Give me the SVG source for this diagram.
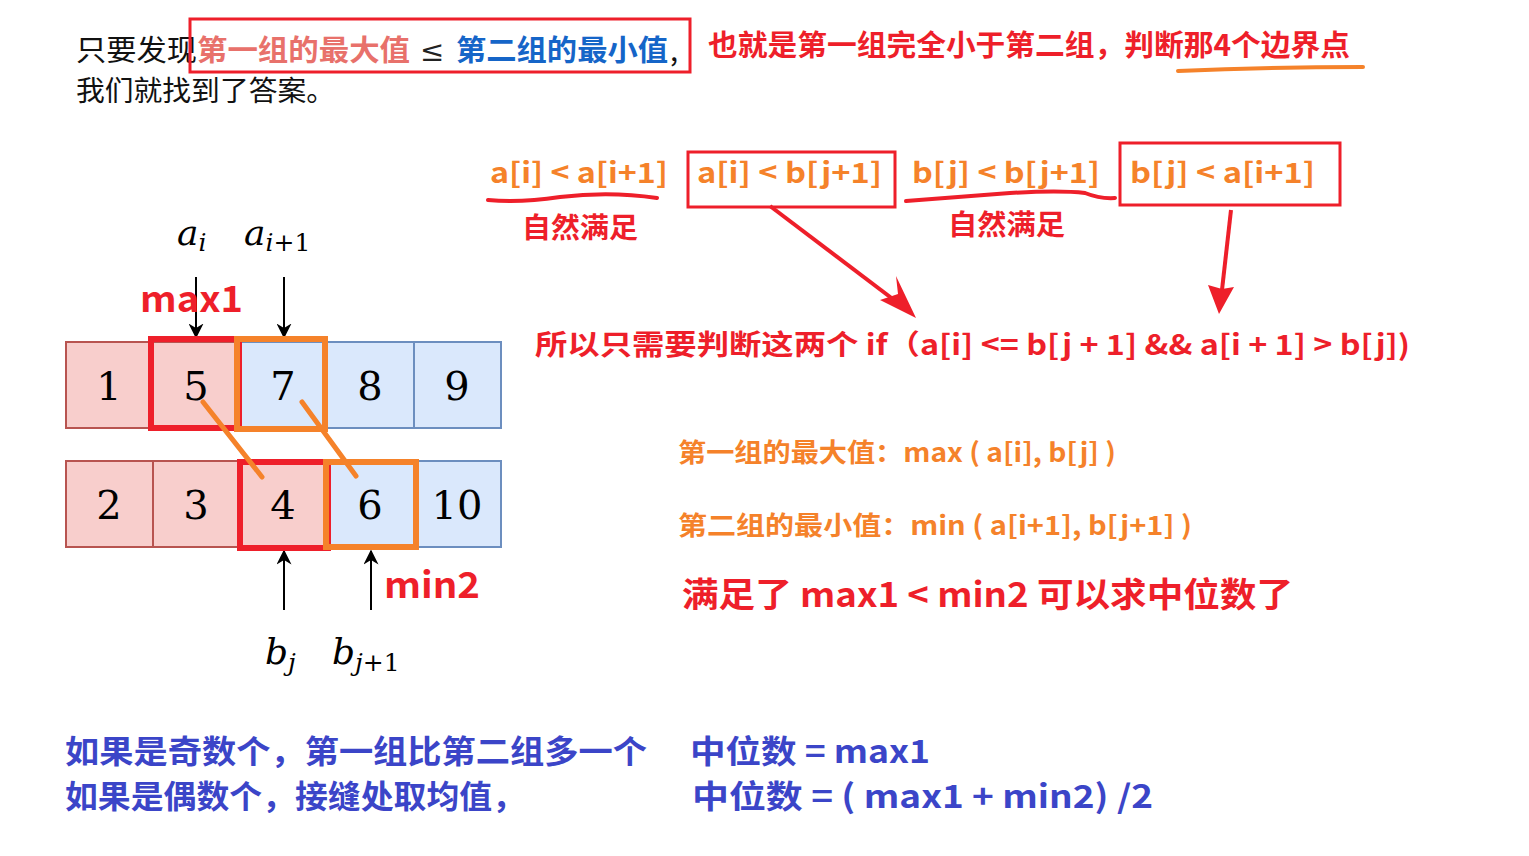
<svg xmlns="http://www.w3.org/2000/svg" width="1529" height="856" viewBox="0 0 1529 856">
<defs>
<style>
.cjk{font-family:"Noto Sans CJK SC","Noto Sans",sans-serif;}
.b{font-weight:bold;}
.red{fill:#ee1f2a;}
.org{fill:#f5822a;}
.blu{fill:#3b45c8;}
.math{font-family:"DejaVu Serif","Liberation Serif",serif;font-style:italic;fill:#000;}
.num{font-family:"DejaVu Serif","Liberation Serif",serif;font-size:40px;fill:#000;text-anchor:middle;}
.pink{fill:#f8cecc;stroke:#b85450;stroke-width:2;}
.blue{fill:#dae8fc;stroke:#6c8ebf;stroke-width:2;}
.hr{fill:none;stroke:#ee1f2a;stroke-width:6;}
.ho{fill:none;stroke:#f5822a;stroke-width:6;}
</style>
<marker id="ab" viewBox="0 0 10 10" refX="9" refY="5" markerWidth="15" markerHeight="15" orient="auto" markerUnits="userSpaceOnUse">
<path d="M0,0 L10,5 L0,10 L3,5 Z" fill="#000"/>
</marker>
</defs>
<rect width="1529" height="856" fill="#fff"/>

<g id="header">
<text class="cjk" x="76" y="61" font-size="29" fill="#111" textLength="121" lengthAdjust="spacingAndGlyphs">只要发现</text>
<text class="cjk b" x="197" y="61" font-size="29" fill="#e8716b" textLength="213" lengthAdjust="spacingAndGlyphs">第一组的最大值</text>
<text x="420" y="61" font-size="29" fill="#222" font-family="DejaVu Serif,serif">≤</text>
<text class="cjk b" x="456" y="61" font-size="29" fill="#1565c8" textLength="212" lengthAdjust="spacingAndGlyphs">第二组的最小值</text>
<text class="cjk" x="670" y="61" font-size="29" fill="#111">,</text>
<rect x="190" y="19" width="500" height="53" fill="none" stroke="#ee1f2a" stroke-width="3"/>
<text class="cjk" x="76" y="101" font-size="28" fill="#111" textLength="259" lengthAdjust="spacingAndGlyphs">我们就找到了答案。</text>
<text class="cjk b red" x="708" y="56" font-size="29" textLength="642" lengthAdjust="spacingAndGlyphs">也就是第一组完全小于第二组，判断那4个边界点</text>
<path d="M1178,71 Q1270,67 1363,67" fill="none" stroke="#f5822a" stroke-width="4" stroke-linecap="round"/>
</g>

<g id="conditions">
<text class="cjk b org" x="490" y="183" font-size="28" textLength="178" lengthAdjust="spacingAndGlyphs">a[i] &lt; a[i+1]</text>
<rect x="688" y="152" width="207" height="55" fill="none" stroke="#ee1f2a" stroke-width="3"/>
<text class="cjk b org" x="697" y="183" font-size="28" textLength="185" lengthAdjust="spacingAndGlyphs">a[i] &lt; b[j+1]</text>
<text class="cjk b org" x="912" y="183" font-size="28" textLength="188" lengthAdjust="spacingAndGlyphs">b[j] &lt; b[j+1]</text>
<rect x="1120" y="143" width="220" height="62" fill="none" stroke="#ee1f2a" stroke-width="3"/>
<text class="cjk b org" x="1130" y="183" font-size="28" textLength="185" lengthAdjust="spacingAndGlyphs">b[j] &lt; a[i+1]</text>
<path d="M488,200 Q520,203 560,197 Q610,191 657,198" fill="none" stroke="#ee1f2a" stroke-width="4" stroke-linecap="round"/>
<path d="M906,201 Q960,197 1010,193 Q1060,190 1085,193 Q1100,199 1115,198" fill="none" stroke="#ee1f2a" stroke-width="4" stroke-linecap="round"/>
<text class="cjk b red" x="522" y="238" font-size="28" textLength="116" lengthAdjust="spacingAndGlyphs">自然满足</text>
<text class="cjk b red" x="948" y="235" font-size="28" textLength="117" lengthAdjust="spacingAndGlyphs">自然满足</text>
</g>

<g id="connectors">
<line x1="770" y1="206" x2="902" y2="306" stroke="#ee1f2a" stroke-width="4"/>
<path d="M916,318 L880,300 L898,294 L896,276 Z" fill="#ee1f2a"/>
<line x1="1231" y1="210" x2="1222" y2="290" stroke="#ee1f2a" stroke-width="4"/>
<path d="M1219,314 L1208,285 L1222,289 L1234,287 Z" fill="#ee1f2a"/>
<line x1="196" y1="277" x2="196" y2="337" stroke="#000" stroke-width="2" marker-end="url(#ab)"/>
<line x1="284" y1="277" x2="284" y2="337" stroke="#000" stroke-width="2" marker-end="url(#ab)"/>
<line x1="284" y1="610" x2="284" y2="551" stroke="#000" stroke-width="2" marker-end="url(#ab)"/>
<line x1="371" y1="610" x2="371" y2="551" stroke="#000" stroke-width="2" marker-end="url(#ab)"/>
</g>

<g id="conclusion">
<text class="cjk b red" x="535" y="355" font-size="28" textLength="875" lengthAdjust="spacingAndGlyphs">所以只需要判断这两个 if（a[i] &lt;= b[j + 1] &amp;&amp; a[i + 1] &gt; b[j])</text>
</g>

<g id="array-a">
<rect class="pink" x="66" y="342" width="87" height="86"/>
<rect class="pink" x="153" y="342" width="87" height="86"/>
<rect class="blue" x="240" y="342" width="87" height="86"/>
<rect class="blue" x="327" y="342" width="87" height="86"/>
<rect class="blue" x="414" y="342" width="87" height="86"/>
<text class="num" x="109" y="400">1</text>
<text class="num" x="196" y="400">5</text>
<text class="num" x="283" y="400">7</text>
<text class="num" x="370" y="400">8</text>
<text class="num" x="457" y="400">9</text>
</g>

<g id="array-b">
<rect class="pink" x="66" y="461" width="87" height="86"/>
<rect class="pink" x="153" y="461" width="87" height="86"/>
<rect class="pink" x="240" y="461" width="87" height="86"/>
<rect class="blue" x="327" y="461" width="87" height="86"/>
<rect class="blue" x="414" y="461" width="87" height="86"/>
<text class="num" x="109" y="519">2</text>
<text class="num" x="196" y="519">3</text>
<text class="num" x="283" y="519">4</text>
<text class="num" x="370" y="519">6</text>
<text class="num" x="457" y="519">10</text>
</g>

<g id="highlights">
<rect class="hr" x="151" y="339" width="88" height="89"/>
<rect class="ho" x="237" y="339" width="88" height="90"/>
<rect class="hr" x="240" y="462" width="88" height="86"/>
<rect class="ho" x="326" y="462" width="90" height="85"/>
<line x1="203" y1="402" x2="262" y2="477" stroke="#f5822a" stroke-width="5" stroke-linecap="round"/>
<line x1="302" y1="402" x2="356" y2="476" stroke="#f5822a" stroke-width="5" stroke-linecap="round"/>
</g>

<g id="labels">
<text class="math" x="177" y="245" font-size="36">a<tspan font-size="25" dy="6">i</tspan></text>
<text class="math" x="244" y="245" font-size="36">a<tspan font-size="25" dy="6">i</tspan><tspan font-size="25" font-style="normal">+1</tspan></text>
<text class="cjk b red" x="140" y="312" font-size="36" textLength="103" lengthAdjust="spacingAndGlyphs">max1</text>
<text class="cjk b red" x="384" y="598" font-size="36" textLength="96" lengthAdjust="spacingAndGlyphs">min2</text>
<text class="math" x="265" y="664" font-size="36">b<tspan font-size="25" dy="7">j</tspan></text>
<text class="math" x="332" y="664" font-size="36">b<tspan font-size="25" dy="7">j</tspan><tspan font-size="25" font-style="normal">+1</tspan></text>
</g>

<g id="notes">
<text class="cjk b org" x="678" y="462" font-size="26" textLength="438" lengthAdjust="spacingAndGlyphs">第一组的最大值：max ( a[i], b[j] )</text>
<text class="cjk b org" x="678" y="535" font-size="26" textLength="514" lengthAdjust="spacingAndGlyphs">第二组的最小值：min ( a[i+1],  b[j+1] )</text>
<text class="cjk b red" x="682" y="607" font-size="34" textLength="611" lengthAdjust="spacingAndGlyphs">满足了  max1 &lt; min2  可以求中位数了</text>
</g>

<g id="median">
<text class="cjk b blu" x="65" y="763" font-size="32" textLength="582" lengthAdjust="spacingAndGlyphs">如果是奇数个，第一组比第二组多一个</text>
<text class="cjk b blu" x="690" y="763" font-size="32" textLength="240" lengthAdjust="spacingAndGlyphs">中位数 = max1</text>
<text class="cjk b blu" x="65" y="808" font-size="32" textLength="460" lengthAdjust="spacingAndGlyphs">如果是偶数个，接缝处取均值，</text>
<text class="cjk b blu" x="692" y="808" font-size="32" textLength="461" lengthAdjust="spacingAndGlyphs">中位数 = ( max1 + min2) /2</text>
</g>
</svg>
